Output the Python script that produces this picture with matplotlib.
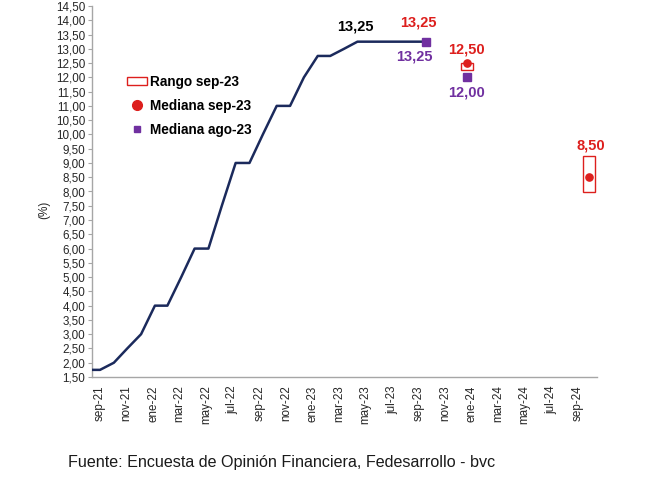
import datetime as dt

import numpy as np
import pandas as pd
import matplotlib
matplotlib.use('Agg')
import matplotlib.pyplot as plt
import matplotlib.dates as mdates
from matplotlib.patches import Patch
from matplotlib.lines import Line2D

plt.rcParams['font.family'] = ['Liberation Sans', 'DejaVu Sans']

meses = ['ene', 'feb', 'mar', 'abr', 'may', 'jun', 'jul', 'ago', 'sep', 'oct', 'nov', 'dic']

# tasa de politica monetaria observada (fin de mes)
fechas = pd.date_range('2021-08-31', '2023-09-30', freq='ME')
tasa = [1.75, 1.75, 2.00, 2.50, 3.00,
        4.00, 4.00, 5.00, 6.00, 6.00, 7.50, 9.00, 9.00, 10.00, 11.00, 11.00, 12.00,
        12.75, 12.75, 13.00, 13.25, 13.25, 13.25, 13.25, 13.25, 13.25]

# encuesta sep-23
fechas_sep = pd.to_datetime(['2023-09-30', '2023-12-31', '2024-09-30'])
mediana_sep = [13.25, 12.50, 8.50]
fechas_rango = pd.to_datetime(['2023-12-31', '2024-09-30'])
rango_min = [12.25, 8.00]
rango_max = [12.50, 9.25]

# encuesta ago-23
fechas_ago = pd.to_datetime(['2023-09-30', '2023-12-31'])
mediana_ago = [13.25, 12.00]

azul = '#1B2A5C'
rojo = '#DD1F1D'
morado = '#7030A0'
gris = '#A6A6A6'


def fmt_coma(v):
    return f'{v:.2f}'.replace('.', ',')


def main():
    fig = plt.figure(figsize=(6.5, 4.87), dpi=100)
    ax = fig.add_axes([92 / 650, 1 - 377 / 487, (597 - 92) / 650, (377 - 6) / 487])

    ax.plot(fechas, tasa, color=azul, linewidth=1.8, zorder=3, clip_on=True)

    ancho = 27
    ax.bar(fechas_rango, np.array(rango_max) - np.array(rango_min), bottom=rango_min,
           width=ancho, facecolor='white', edgecolor=rojo, linewidth=1.0, zorder=4)
    ax.plot(fechas_sep, mediana_sep, 'o', color=rojo, markersize=5.2, linestyle='none', zorder=5)
    ax.plot(fechas_ago, mediana_ago, 's', color=morado, markersize=6, linestyle='none', zorder=6)

    bold = dict(fontsize=10.5, fontweight='bold', ha='center', va='center',
                textcoords='offset points')
    ax.annotate(fmt_coma(tasa[20]), (fechas[20], tasa[20]), xytext=(-1.5, 11), color='black', **bold)
    ax.annotate(fmt_coma(mediana_sep[0]), (fechas_sep[0], mediana_sep[0]), xytext=(-5, 13.7), color=rojo, **bold)
    ax.annotate(fmt_coma(mediana_ago[0]), (fechas_ago[0], mediana_ago[0]), xytext=(-8, -11), color=morado, **bold)
    ax.annotate(fmt_coma(mediana_sep[1]), (fechas_sep[1], mediana_sep[1]), xytext=(0, 10), color=rojo, **bold)
    ax.annotate(fmt_coma(mediana_ago[1]), (fechas_ago[1], mediana_ago[1]), xytext=(0, -11), color=morado, **bold)
    ax.annotate(fmt_coma(mediana_sep[2]), (fechas_sep[2], mediana_sep[2]), xytext=(1.5, 23), color=rojo, **bold)

    # eje y
    ax.set_ylim(1.5, 14.5)
    yt = np.arange(1.5, 14.51, 0.5)
    ax.set_yticks(yt)
    ax.set_yticklabels([fmt_coma(v) for v in yt], fontsize=8.4, color='#262626')
    ax.tick_params(axis='y', length=3, color=gris, pad=2)

    # eje x (etiquetas cada ~2 meses)
    inicio = mdates.date2num(fechas[1])
    xt = inicio + np.arange(19) * 59.5
    ax.set_xticks(xt)
    etiquetas = []
    for d in mdates.num2date(xt):
        etiquetas.append(f'{meses[d.month - 1]}-{d.year % 100:02d}')
    ax.set_xticklabels(etiquetas, rotation=90, fontsize=8.4, color='#262626')
    ax.tick_params(axis='x', length=0, pad=6)
    ax.set_xlim(mdates.date2num(fechas[1]) - 18, mdates.date2num(fechas_sep[2]) + 18)

    for s in ['top', 'right']:
        ax.spines[s].set_visible(False)
    for s in ['left', 'bottom']:
        ax.spines[s].set_color(gris)
        ax.spines[s].set_linewidth(1.0)

    fig.text(44 / 650, 1 - 210 / 487, '(%)', rotation=90, fontsize=8.5, ha='center', va='center', color='#262626')

    handles = [Patch(facecolor='white', edgecolor=rojo, linewidth=1.0),
               Line2D([], [], marker='o', color=rojo, linestyle='none', markersize=7),
               Line2D([], [], marker='s', color=morado, linestyle='none', markersize=5)]
    labels = ['Rango sep-23', 'Mediana sep-23', 'Mediana ago-23']
    fig.legend(handles, labels, loc='upper left', bbox_to_anchor=(127 / 650, 1 - 75 / 487),
               frameon=False, prop={'size': 9.8, 'weight': 'bold'}, handlelength=1.5,
               handleheight=0.55, handletextpad=0.2, labelspacing=0.72, borderpad=0,
               borderaxespad=0)

    fig.text(68 / 650, 1 - 463 / 487, 'Fuente: Encuesta de Opinión Financiera, Fedesarrollo - bvc',
             fontsize=11.6, ha='left', va='center', color='#1A1A1A')

    fig.savefig('out.png', dpi=100)
    return 0


if __name__ == '__main__':
    main()
